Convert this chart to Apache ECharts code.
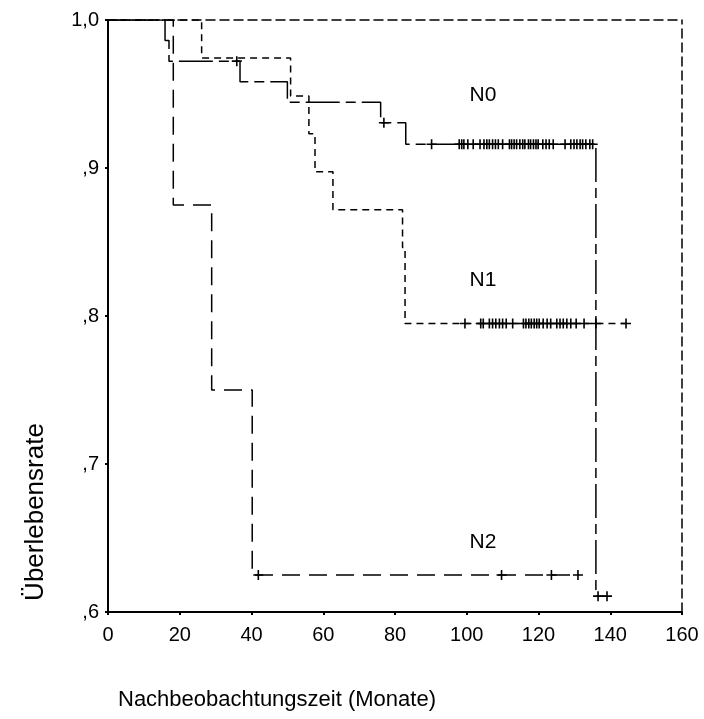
<!DOCTYPE html>
<html>
<head>
<meta charset="utf-8">
<script src="https://cdn.jsdelivr.net/npm/echarts@6/dist/echarts.min.js"></script>
<style>html,body{margin:0;padding:0;background:#fff;}#c{width:704px;height:719px;}</style>
</head>
<body>
<div id="c"></div>
<script>
// ---- data ----
var xTicks = [0, 20, 40, 60, 80, 100, 120, 140, 160];
var yTickLabels = [',6', ',7', ',8', ',9', '1,0'];
var groupNames = ['N0', 'N1', 'N2'];

var n0Times = [15.9, 17.0, 36.8, 50.0, 76.0, 83.0, 136.0];
var n0Surv  = [0.9861, 0.9722, 0.9583, 0.9444, 0.9306, 0.9160, 0.6107];
var n0End = 139.1;
var n0Censor = [35.9, 76.9, 90.2, 97.9, 98.6, 99.2, 100.3, 101.8, 103.7, 104.8, 105.6, 106.3, 107.2, 108.0, 108.8, 110.0, 111.9, 112.5, 113.2, 113.9, 114.8, 115.6, 116.2, 117.2, 117.8, 118.6, 119.3, 119.9, 121.2, 122.1, 123.0, 124.1, 127.4, 129.0, 129.9, 130.7, 131.6, 132.3, 133.2, 134.3, 135.1, 136.6, 139.1];

var n1Times = [26.1, 50.9, 56.0, 57.7, 62.7, 82.1, 82.8];
var n1Surv  = [0.9744, 0.9487, 0.9231, 0.8974, 0.8718, 0.8462, 0.7949];
var n1End = 144.4;
var n1Censor = [99.5, 103.9, 104.6, 106.3, 107.2, 108.1, 109.1, 110.0, 111.0, 112.8, 115.8, 116.5, 117.3, 118.0, 118.8, 119.5, 120.2, 121.3, 122.4, 123.4, 125.1, 126.0, 126.9, 127.9, 129.0, 130.5, 132.7, 136.0, 144.4];

var n2Times = [18.2, 28.9, 40.2];
var n2Surv  = [0.875, 0.75, 0.625];
var n2End = 131.0;
var n2Censor = [41.9, 109.7, 123.6, 131.0];

var labelX = [104.5, 104.5, 104.5];
var labelY = [0.949, 0.8243, 0.6473];

// ---- helpers ----
function stepPoints(times, surv, end) {
  var pts = [[0, 1]];
  var prev = 1;
  for (var i = 0; i < times.length; i++) {
    pts.push([times[i], prev]);
    pts.push([times[i], surv[i]]);
    prev = surv[i];
  }
  pts.push([end, prev]);
  return pts;
}
function survAt(times, surv, t) {
  var v = 1;
  for (var i = 0; i < times.length; i++) { if (times[i] <= t) v = surv[i]; }
  return v;
}
function censorPoints(times, surv, cens) {
  return cens.map(function (t) { return [t, survAt(times, surv, t)]; });
}

var plus = 'path://M-1.6,-10 H1.6 V-1.6 H10 V1.6 H1.6 V10 H-1.6 V1.6 H-10 V-1.6 H-1.6 Z';
var font = 'Liberation Sans, Arial, sans-serif';

function lineSeries(pts, dash) {
  return { type: 'line', data: pts, showSymbol: false, symbol: 'none', animation: false,
    lineStyle: { color: '#000', width: 1.5, type: dash }, z: 3 };
}
function censorSeries(pts) {
  return { type: 'scatter', data: pts, symbol: plus, symbolSize: 10, animation: false,
    itemStyle: { color: '#000', opacity: 1 }, z: 4 };
}

var chart = echarts.init(document.getElementById('c'), null, { renderer: 'canvas' });
chart.setOption({
  backgroundColor: '#fff',
  animation: false,
  grid: { left: 108, right: 22, top: 20, bottom: 107 },
  xAxis: [{
    type: 'value', min: 0, max: 160, interval: 20, position: 'bottom',
    axisLine: { show: true, onZero: false, lineStyle: { color: '#000', width: 2 } },
    axisTick: { show: true, length: 3, lineStyle: { color: '#000', width: 2 } },
    splitLine: { show: false },
    axisLabel: { color: '#000', fontSize: 20, fontFamily: font, margin: 13,
      formatter: function (v) { return xTicks.indexOf(v) >= 0 ? String(v) : ''; } }
  }, {
    type: 'value', min: 0, max: 160, position: 'top',
    axisLine: { show: true, onZero: false, lineStyle: { color: '#000', width: 1.5, type: [9, 5] } },
    axisTick: { show: false }, axisLabel: { show: false }, splitLine: { show: false }
  }],
  yAxis: [{
    type: 'value', min: 0.6, max: 1.0, interval: 0.1, position: 'left',
    axisLine: { show: true, onZero: false, lineStyle: { color: '#000', width: 2 } },
    axisTick: { show: true, length: 3, lineStyle: { color: '#000', width: 2 } },
    splitLine: { show: false },
    axisLabel: { color: '#000', fontSize: 20, fontFamily: font, margin: 9,
      formatter: function (v) { var i = Math.round((v - 0.6) * 10); return yTickLabels[i] || ''; } }
  }, {
    type: 'value', min: 0.6, max: 1.0, position: 'right',
    axisLine: { show: true, onZero: false, lineStyle: { color: '#000', width: 1.5, type: [9, 5] } },
    axisTick: { show: false }, axisLabel: { show: false }, splitLine: { show: false }
  }],
  series: [
    lineSeries(stepPoints(n1Times, n1Surv, n1End), [7, 5]),
    lineSeries(stepPoints(n2Times, n2Surv, n2End), [18, 9]),
    lineSeries(stepPoints(n0Times, n0Surv, n0End), [34, 6, 10, 6]),
    censorSeries(censorPoints(n0Times, n0Surv, n0Censor)),
    censorSeries(censorPoints(n1Times, n1Surv, n1Censor)),
    censorSeries(censorPoints(n2Times, n2Surv, n2Censor)),
    { type: 'scatter', symbolSize: 0, animation: false, silent: true,
      itemStyle: { opacity: 1 },
      data: groupNames.map(function (n, i) { return { name: n, value: [labelX[i], labelY[i]] }; }),
      label: { show: true, position: 'inside', formatter: '{b}', color: '#000', fontSize: 21, fontFamily: font } }
  ],
  graphic: [
    { type: 'text', x: 36, y: 512, rotation: Math.PI / 2,
      style: { text: 'Überlebensrate', fill: '#000', font: '26px ' + font, textAlign: 'center', textVerticalAlign: 'middle' } },
    { type: 'text', x: 118, y: 700,
      style: { text: 'Nachbeobachtungszeit (Monate)', fill: '#000', font: '22px ' + font, textAlign: 'left', textVerticalAlign: 'middle' } }
  ]
});
</script>
</body>
</html>
